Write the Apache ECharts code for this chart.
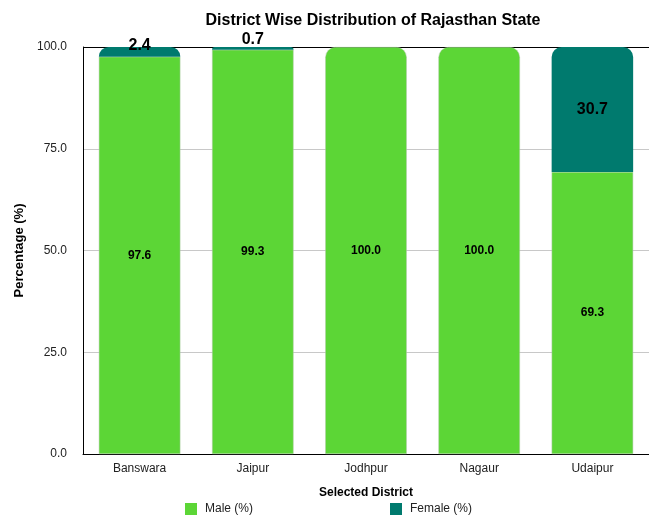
<!DOCTYPE html>
<html>
<head>
<meta charset="utf-8">
<script src="https://cdn.jsdelivr.net/npm/echarts@6/dist/echarts.min.js"></script>
<style>
html, body { margin: 0; padding: 0; background: #fff; }
#chart { width: 649px; height: 519px; }
</style>
</head>
<body>
<div id="chart"></div>
<script>
// District-wise male/female share (%)
const districts = ['Banswara', 'Jaipur', 'Jodhpur', 'Nagaur', 'Udaipur'];
const malePct = [97.6, 99.3, 100.0, 100.0, 69.3];
const femalePct = [2.4, 0.7, 0.0, 0.0, 30.7];
const yTicks = [0, 25, 50, 75, 100];

const GREEN = '#5CD636';
const TEAL = '#007A6E';
const RADIUS = 10;
const FONT = '"Liberation Sans", Arial, Helvetica, sans-serif';

// Male segment: rounded top only when it is the whole bar
const maleData = malePct.map((v, i) => ({
  value: v,
  itemStyle: { borderRadius: femalePct[i] > 0 ? 0 : [RADIUS, RADIUS, 0, 0] }
}));

// Female segment sits on top; small slices get their label nudged above the bar
const femaleData = femalePct.map((v) => {
  const item = { value: v, itemStyle: { borderRadius: [RADIUS, RADIUS, 0, 0] } };
  if (v === 0) {
    item.label = { show: false };
  } else if (v < 5) {
    item.label = { show: true, position: 'inside', offset: [0, v > 2 ? -6 : -9] };
  }
  return item;
});

// Grey gridlines, with the 100 line drawn black as the plot's top edge
const splitColors = yTicks.map((t, i) => (i === yTicks.length - 1 ? '#000' : '#c8c8c8'));

const chart = echarts.init(document.getElementById('chart'));
chart.setOption({
  animation: false,
  textStyle: { fontFamily: FONT },
  title: {
    text: 'District Wise Distribution of Rajasthan State',
    left: 368,
    textAlign: 'center',
    top: 8,
    textStyle: { fontFamily: FONT, fontSize: 16, fontWeight: 'bold', color: '#000' }
  },
  legend: {
    bottom: -1,
    left: 180,
    itemGap: 137,
    itemWidth: 12,
    itemHeight: 12,
    icon: 'rect',
    itemStyle: { borderWidth: 0 },
    textStyle: { fontFamily: FONT, fontSize: 12, color: '#222', padding: [0, 0, 0, 3] },
    data: ['Male (%)', 'Female (%)']
  },
  grid: {
    left: 83,
    right: 0,
    top: 47,
    bottom: 65
  },
  xAxis: {
    type: 'category',
    data: districts,
    name: 'Selected District',
    nameLocation: 'middle',
    nameGap: 33,
    nameTextStyle: { fontFamily: FONT, fontSize: 12, fontWeight: 'bold', color: '#000' },
    axisLine: { lineStyle: { color: '#000', width: 1 } },
    axisTick: { show: false },
    axisLabel: { fontFamily: FONT, fontSize: 12, color: '#222', margin: 9 }
  },
  yAxis: {
    type: 'value',
    min: yTicks[0],
    max: yTicks[yTicks.length - 1],
    interval: 25,
    name: 'Percentage (%)',
    nameLocation: 'middle',
    nameGap: 57,
    nameTextStyle: { fontFamily: FONT, fontSize: 13, fontWeight: 'bold', color: '#000' },
    axisLine: { show: true, lineStyle: { color: '#000', width: 1 } },
    axisTick: { show: false },
    axisLabel: { fontFamily: FONT, fontSize: 12, color: '#222', margin: 16, formatter: (v) => v.toFixed(1) },
    splitLine: { show: true, lineStyle: { color: splitColors, width: 1 } }
  },
  series: [
    {
      name: 'Male (%)',
      type: 'bar',
      stack: 'total',
      barWidth: '72%',
      data: maleData,
      itemStyle: { color: GREEN, borderColor: '#b5c8ae', borderWidth: 0.5 },
      label: {
        show: true,
        position: 'inside',
        fontFamily: FONT,
        fontSize: 12,
        fontWeight: 'bold',
        color: '#000',
        formatter: (p) => p.value.toFixed(1)
      }
    },
    {
      name: 'Female (%)',
      type: 'bar',
      stack: 'total',
      barWidth: '72%',
      data: femaleData,
      itemStyle: { color: TEAL },
      label: {
        show: true,
        position: 'inside',
        fontFamily: FONT,
        fontSize: 16,
        fontWeight: 'bold',
        color: '#000',
        formatter: (p) => p.value.toFixed(1)
      }
    }
  ]
});
</script>
</body>
</html>
